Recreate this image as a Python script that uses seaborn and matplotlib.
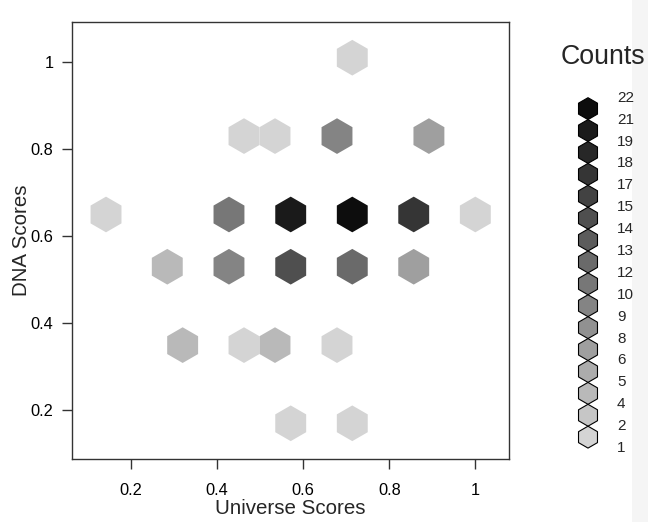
import numpy as np
import matplotlib
matplotlib.use("Agg")
import matplotlib.pyplot as plt
from matplotlib.patches import RegularPolygon, Rectangle
import seaborn as sns

# hexbin cell centres and counts
hex_x = [0.714,
         0.4625, 0.5345, 0.6785, 0.892,
         0.142, 0.4276, 0.571, 0.714, 0.8567, 0.9998,
         0.2843, 0.4276, 0.571, 0.714, 0.8567,
         0.32, 0.4625, 0.5345, 0.6785,
         0.571, 0.714]
hex_y = [1.009,
         0.829, 0.829, 0.829, 0.829,
         0.649, 0.649, 0.649, 0.649, 0.649, 0.649,
         0.529, 0.529, 0.529, 0.529, 0.529,
         0.349, 0.349, 0.349, 0.349,
         0.1695, 0.1695]
counts = [1,
          1, 1, 9, 7,
          1, 11, 20, 22, 18, 1,
          4, 9, 15, 12, 7,
          4, 1, 4, 1,
          1, 1]

legend_labels = [22, 21, 19, 18, 17, 15, 14, 13, 12, 10, 9, 8, 6, 5, 4, 2, 1]

x_ticks = [0.2, 0.4, 0.6, 0.8, 1.0]
x_tick_labels = ["0.2", "0.4", "0.6", "0.8", "1"]
y_ticks = [0.2, 0.4, 0.6, 0.8, 1.0]
y_tick_labels = ["0.2", "0.4", "0.6", "0.8", "1"]

sns.set_style("ticks")
plt.rcParams['font.family'] = ['Liberation Sans', 'DejaVu Sans']

W, H = 648, 522
fig = plt.figure(figsize=(W / 100, H / 100), dpi=100)

ax = fig.add_axes([72 / W, (H - 459) / H, 437 / W, 437 / H])

# 16 grey levels, binned like R hexbin
n_bins = 16
greys = np.linspace(0.83, 0.05, n_bins)
cnt = np.array(counts)
edges = np.linspace(cnt.min(), cnt.max(), n_bins + 1)
bins = np.clip(np.digitize(cnt, edges) - 1, 0, n_bins - 1)
pal = {c: str(greys[b]) for c, b in zip(cnt, bins)}

sns.scatterplot(x=hex_x, y=hex_y, hue=counts, palette=pal, marker="h", s=660,
                linewidth=0, legend=False, ax=ax)

ax.set_xlim(0.063, 1.078)
ax.set_ylim(0.0875, 1.091)
ax.set_xticks(x_ticks)
ax.set_xticklabels(x_tick_labels)
ax.set_yticks(y_ticks)
ax.set_yticklabels(y_tick_labels)
ax.tick_params(axis="both", direction="out", length=7, width=1, color="#333333",
               labelsize=11.8, labelcolor="black")
ax.tick_params(axis="x", pad=10)
ax.tick_params(axis="y", pad=6.5)
for sp in ax.spines.values():
    sp.set_visible(True)
    sp.set_color("#333333")
    sp.set_linewidth(1)

ax.set_xlabel("Universe Scores", fontsize=14.8, va="center")
ax.xaxis.set_label_coords(0.5, (459 - 509) / 437)
ax.set_ylabel("DNA Scores", fontsize=14.8, va="center")
ax.yaxis.set_label_coords((22 - 72) / 437, 0.5)

# legend drawn in pixel coordinates
lax = fig.add_axes([0, 0, 1, 1], facecolor="none")
lax.set_xlim(0, W)
lax.set_ylim(H, 0)
lax.axis("off")

# light strip at the right edge of the screenshot
lax.add_patch(Rectangle((632, 0), 16, H, facecolor="#f5f5f5", edgecolor="none",
                        zorder=0, clip_on=False))

top = 97.7
pitch = 21.9
for i in range(n_bins):
    cy = top + pitch * (i + 0.5)
    g = greys[n_bins - 1 - i]
    lax.add_patch(RegularPolygon((588, cy), numVertices=6, radius=pitch / 2,
                                 facecolor=str(g), edgecolor="black", linewidth=0.8,
                                 zorder=2))
for i, lab in enumerate(legend_labels):
    lax.text(617, top + pitch * i, str(lab), ha="left", va="center", fontsize=11,
             zorder=3)

lax.text(561, 57, "Counts", ha="left", va="center", fontsize=19.3, zorder=3)

fig.savefig("out.png", dpi=100)
